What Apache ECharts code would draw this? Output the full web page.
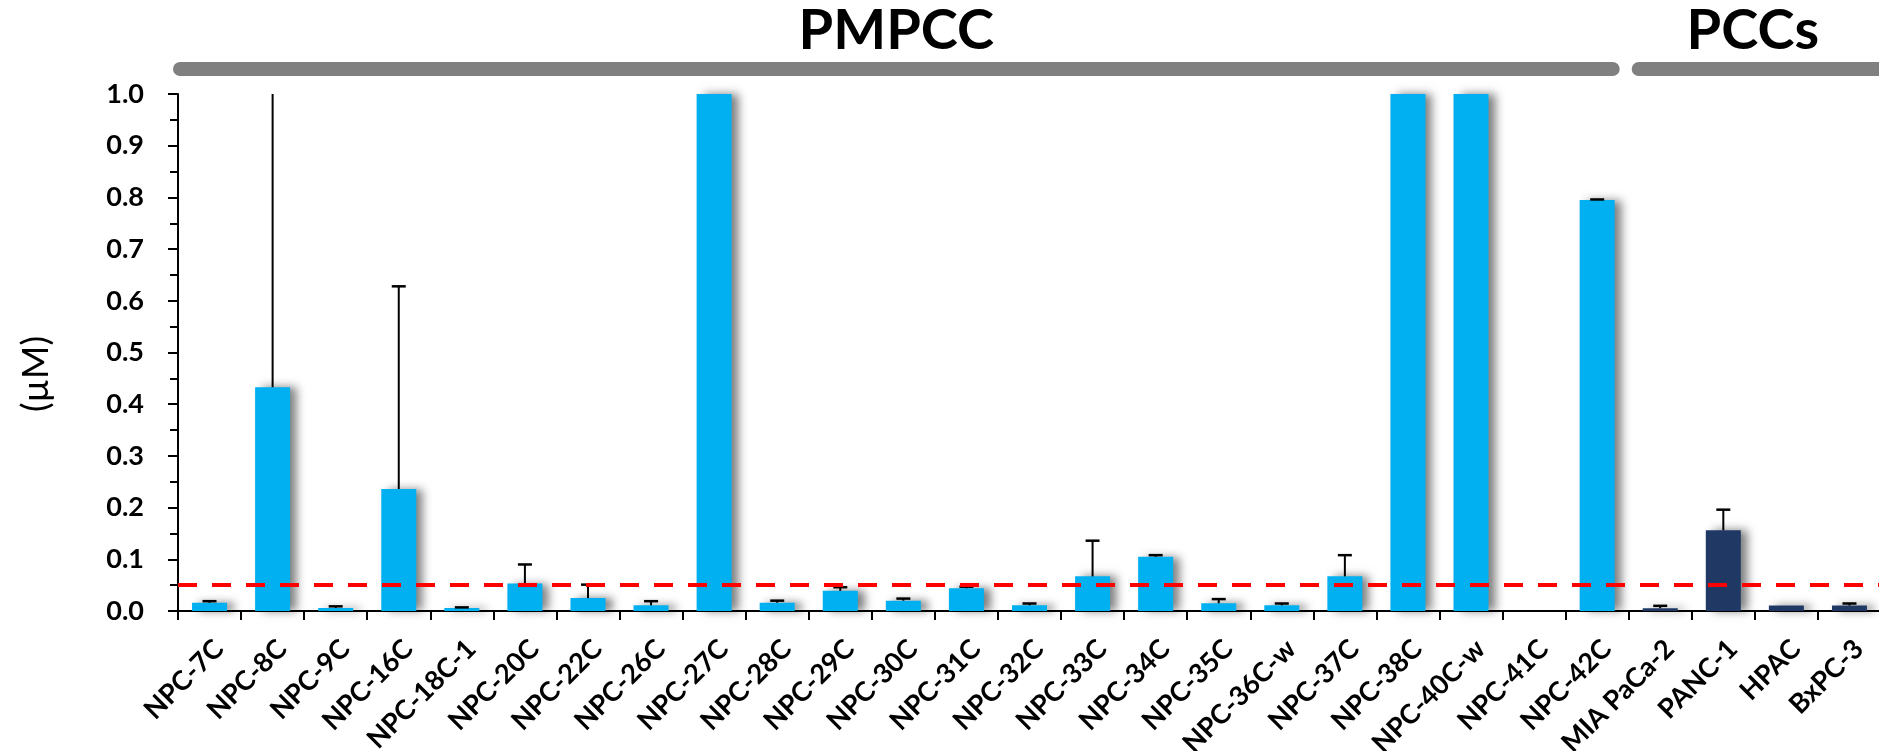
<!DOCTYPE html>
<html><head><meta charset="utf-8">
<script src="https://cdn.jsdelivr.net/npm/echarts@6/dist/echarts.min.js"></script>
<style>html,body{margin:0;padding:0;background:#fff}#c{width:1879px;height:751px}</style>
</head><body><div id="c"></div>
<script>
// ---- data ----
const categories = ['NPC-7C','NPC-8C','NPC-9C','NPC-16C','NPC-18C-1','NPC-20C','NPC-22C','NPC-26C','NPC-27C','NPC-28C','NPC-29C','NPC-30C','NPC-31C','NPC-32C','NPC-33C','NPC-34C','NPC-35C','NPC-36C-w','NPC-37C','NPC-38C','NPC-40C-w','NPC-41C','NPC-42C','MIA PaCa-2','PANC-1','HPAC','BxPC-3'];
const groupOf = ['PMPCC','PMPCC','PMPCC','PMPCC','PMPCC','PMPCC','PMPCC','PMPCC','PMPCC','PMPCC','PMPCC','PMPCC','PMPCC','PMPCC','PMPCC','PMPCC','PMPCC','PMPCC','PMPCC','PMPCC','PMPCC','PMPCC','PMPCC','PCCs','PCCs','PCCs','PCCs'];
const values   = [0.016,0.433,0.006,0.236,0.006,0.053,0.025,0.011,1.0,0.016,0.039,0.020,0.044,0.011,0.067,0.105,0.015,0.011,0.067,1.0,1.0,null,0.795,0.0055,0.156,0.0105,0.0105];
const errorTop = [0.019,1.3,0.009,0.628,0.007,0.090,0.051,0.019,null,0.020,0.046,0.024,0.047,0.0145,0.136,0.108,0.023,0.0145,0.108,null,null,null,0.796,0.010,0.196,null,0.0145];
const yTicks = {min:0, max:1.0, interval:0.1};
const threshold = 0.048;
const groupNames = ['PMPCC','PCCs'];

// ---- styles ----
const groupColor = {PMPCC:'#00b0f0', PCCs:'#203864'};
const FONT = 'Lato';

const chart = echarts.init(document.getElementById('c'), null, {renderer:'canvas'});

const barData = values.map((v,i)=>({value:v, itemStyle:{color:groupColor[groupOf[i]]}}));
const errData = values.map((v,i)=>[i, v, errorTop[i]]).filter(d=>d[1]!=null && d[2]!=null);

chart.setOption({
  animation:false,
  backgroundColor:'#fff',
  grid:{left:178, top:94, width:1703, bottom:140, containLabel:false, outerBoundsMode:'none'},
  xAxis:{
    type:'category', data:categories,
    axisLine:{lineStyle:{color:'#000', width:2}},
    axisTick:{show:true, length:9, lineStyle:{color:'#000', width:2}},
    axisLabel:{rotate:45, interval:0, margin:24, align:'right', verticalAlign:'top', color:'#000', fontFamily:FONT, fontWeight:'bold', fontSize:27}
  },
  yAxis:{
    type:'value', min:yTicks.min, max:yTicks.max, interval:yTicks.interval,
    axisLine:{show:true, lineStyle:{color:'#000', width:2}},
    axisTick:{show:true, length:10, lineStyle:{color:'#000', width:2}},
    minorTick:{show:true, splitNumber:2, length:8, lineStyle:{color:'#000', width:2}},
    splitLine:{show:false},
    axisLabel:{margin:34, color:'#000', fontFamily:FONT, fontWeight:'bold', fontSize:27, formatter:v=>v.toFixed(1)}
  },
  series:[
    {type:'bar', data:barData, barWidth:35,
     itemStyle:{shadowColor:'rgba(0,0,0,0.5)', shadowBlur:9, shadowOffsetX:7, shadowOffsetY:0}},
    {type:'custom', data:errData, z:5,
     encode:{x:0, y:1},
     renderItem:(params, api)=>{
       const i=api.value(0), v=api.value(1), e=api.value(2);
       const b=api.coord([i,v]);
       const capShow = e<=yTicks.max;
       const t=api.coord([i, Math.min(e, yTicks.max)]);
       const ch=[{type:'line', shape:{x1:b[0],y1:b[1],x2:b[0],y2:t[1]}, style:{stroke:'#000', lineWidth:2}}];
       if(capShow) ch.push({type:'line', shape:{x1:b[0]-7,y1:t[1],x2:b[0]+7,y2:t[1]}, style:{stroke:'#000', lineWidth:2.5}});
       return {type:'group', children:ch};
     },
     markLine:{silent:true, symbol:'none', label:{show:false}, z:10,
       lineStyle:{color:'#ff0000', width:4, type:[19,15]},
       data:[{yAxis:threshold}]}
    }
  ]
});

// group brackets and titles placed from the category axis
function px(i){ return chart.convertToPixel({xAxisIndex:0}, i); }
const step = px(1)-px(0);
const firstPCC = groupOf.indexOf('PCCs');
const boundary = px(firstPCC) - step/2;
const x0 = px(0) - step/2;
const xEnd = px(categories.length-1) + step/2;
const brackets = [
  {name:groupNames[0], x1:x0-5, x2:boundary-9},
  {name:groupNames[1], x1:boundary+3, x2:xEnd+10}
];
const graphic = [];
brackets.forEach((b,k)=>{
  graphic.push({type:'rect', shape:{x:b.x1, y:62, width:b.x2-b.x1, height:14, r:7}, style:{fill:'#808080'}});
  const cx = k===0 ? (b.x1+b.x2)/2 : (boundary + xEnd)/2 - 2;
  graphic.push({type:'text', x:cx, y:31, style:{text:b.name, fill:'#000', font:'bold 56px '+FONT, textAlign:'center', textVerticalAlign:'middle'}});
});
graphic.push({type:'text', x:36, y:374, rotation:Math.PI/2, style:{text:'(µM)', fill:'#000', font:'36px '+FONT, textAlign:'center', textVerticalAlign:'middle'}});
chart.setOption({graphic:graphic});
</script></body></html>
